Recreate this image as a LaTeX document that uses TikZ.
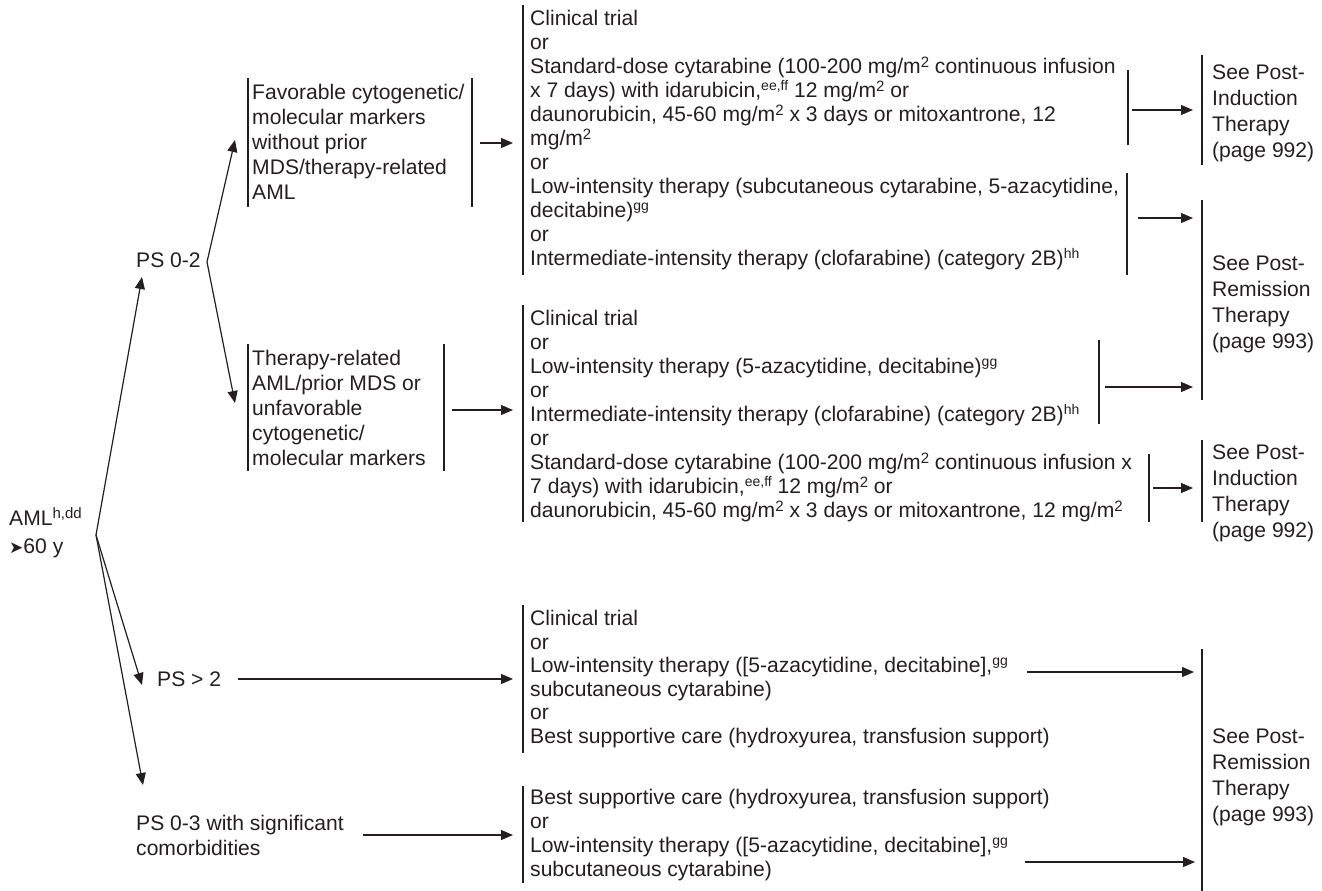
\documentclass[tikz,border=0pt]{standalone}
\usepackage{fontspec}
\setmainfont{Liberation Sans}
\newfontfamily\symfont{DejaVu Sans}
\usetikzlibrary{arrows.meta}
\definecolor{ink}{HTML}{231F20}
% strut that fixes the top of every text block
\newcommand\firstl{\rule{0pt}{20pt}}
% raised footnote marks and exponents
\newcommand\spp[1]{\raisebox{7pt}{\fontsize{14}{14}\selectfont #1}}
\newcommand\sq{\raisebox{6.5pt}{\fontsize{15}{15}\selectfont 2}}
\newcommand\bodyfont[1]{\fontsize{21.1}{#1}\selectfont}

\begin{document}
\begin{tikzpicture}[x=1pt,y=-1pt,
  txt/.style={inner sep=0pt, anchor=north west, align=left, text=ink, font=\bodyfont{24}},
  bar/.style={draw=ink, line width=1.3pt},
  arr/.style={draw=ink, line width=1.2pt, -{Triangle[length=12pt,width=10pt]}}]
\useasboundingbox (0,0) rectangle (1322,891);

% ---------- left column ----------
\node[txt, font=\bodyfont{28}] (aml) at (9,505.5) {\firstl AML\raisebox{7pt}{\fontsize{15}{15}\selectfont h,dd}\\{\symfont\fontsize{17}{17}\selectfont ➤}60 y};
\node[txt] (ps02) at (136,247.5) {\firstl PS 0-2};
\node[txt] (psgt2) at (157,666.5) {\firstl PS > 2};
\node[txt, font=\bodyfont{25}] (ps03) at (136,810.5) {\firstl PS 0-3 with significant\\comorbidities};

% ---------- cytogenetic groups ----------
\node[txt, font=\bodyfont{25}] (fav) at (252,79.5) {\firstl Favorable cytogenetic/\\molecular markers\\without prior\\MDS/therapy-related\\AML};
\node[txt, font=\bodyfont{25}] (unf) at (252,345.5) {\firstl Therapy-related\\AML/prior MDS or\\unfavorable\\cytogenetic/\\molecular markers};
\draw[bar] (248,78) -- (248,207);
\draw[bar] (472,78) -- (472,207);
\draw[bar] (248,344) -- (248,471);
\draw[bar] (444,344) -- (444,471);

% ---------- treatment lists ----------
\node[txt] (t1) at (530,5.5) {\firstl Clinical trial\\
or\\
Standard-dose cytarabine (100-200 mg/m\sq{} continuous infusion\\
x 7 days) with idarubicin,\spp{ee,ff} 12 mg/m\sq{} or\\
daunorubicin, 45-60 mg/m\sq{} x 3 days or mitoxantrone, 12\\
mg/m\sq\\
or\\
Low-intensity therapy (subcutaneous cytarabine, 5-azacytidine,\\
decitabine)\spp{gg}\\
or\\
Intermediate-intensity therapy (clofarabine) (category 2B)\spp{hh}};

\node[txt] (t2) at (530,305.5) {\firstl Clinical trial\\
or\\
Low-intensity therapy (5-azacytidine, decitabine)\spp{gg}\\
or\\
Intermediate-intensity therapy (clofarabine) (category 2B)\spp{hh}\\
or\\
Standard-dose cytarabine (100-200 mg/m\sq{} continuous infusion x\\
7 days) with idarubicin,\spp{ee,ff} 12 mg/m\sq{} or\\
daunorubicin, 45-60 mg/m\sq{} x 3 days or mitoxantrone, 12 mg/m\sq};

\node[txt, font=\bodyfont{23.5}] (t3) at (530,605.5) {\firstl Clinical trial\\
or\\
Low-intensity therapy ([5-azacytidine, decitabine],\spp{gg}\\
subcutaneous cytarabine)\\
or\\
Best supportive care (hydroxyurea, transfusion support)};

\node[txt] (t4) at (530,784.5) {\firstl Best supportive care (hydroxyurea, transfusion support)\\
or\\
Low-intensity therapy ([5-azacytidine, decitabine],\spp{gg}\\
subcutaneous cytarabine)};

\draw[bar] (523,5) -- (523,275);
\draw[bar] (523,305) -- (523,522);
\draw[bar] (523,605) -- (523,753);
\draw[bar] (523,786) -- (523,883);
% closing bars of the option groups
\draw[bar] (1128,70) -- (1128,145);
\draw[bar] (1127,173) -- (1127,275);
\draw[bar] (1099,340) -- (1099,424);
\draw[bar] (1149,454) -- (1149,522);

% ---------- follow-up references ----------
\node[txt, font=\bodyfont{26}] (ind1) at (1212,59.5) {\firstl See Post-\\Induction\\Therapy\\(page 992)};
\node[txt, font=\bodyfont{26}] (rem1) at (1212,250.5) {\firstl See Post-\\Remission\\Therapy\\(page 993)};
\node[txt, font=\bodyfont{26}] (ind2) at (1212,439.5) {\firstl See Post-\\Induction\\Therapy\\(page 992)};
\node[txt, font=\bodyfont{26}] (rem2) at (1212,723.5) {\firstl See Post-\\Remission\\Therapy\\(page 993)};
\draw[bar] (1202,55) -- (1202,165);
\draw[bar] (1202,200) -- (1202,400);
\draw[bar] (1202,440) -- (1202,522);
\draw[bar] (1202,649) -- (1202,891);

% ---------- connector end points ----------
\coordinate (amlv) at (96,535);
\coordinate (ps02tip) at (142,277);
\coordinate (psgt2tip) at (142,685);
\coordinate (ps03tip) at (143,785);
\coordinate (ps02v) at (207,262);
\coordinate (favtip) at (235,140);
\coordinate (unftip) at (235,403);
\coordinate (favout) at (480,143);
\coordinate (t1inA) at (513,143);
\coordinate (unfout) at (452,410);
\coordinate (t2in) at (513,410);
\coordinate (psgt2out) at (238,679);
\coordinate (t3in) at (513,679);
\coordinate (ps03out) at (363,835);
\coordinate (t4in) at (513,835);
\coordinate (t1outA) at (1132,110);
\coordinate (ind1in) at (1193,110);
\coordinate (t1outB) at (1138,218);
\coordinate (rem1inA) at (1193,218);
\coordinate (t2outA) at (1105,387);
\coordinate (rem1inB) at (1193,387);
\coordinate (t2outB) at (1153,488);
\coordinate (ind2in) at (1193,488);
\coordinate (t3out) at (1027,672);
\coordinate (rem2inA) at (1194,672);
\coordinate (t4out) at (1025,862);
\coordinate (rem2inB) at (1195,862);

% ---------- connectors ----------
\draw[arr] (amlv) -- (ps02tip);
\draw[arr] (amlv) -- (psgt2tip);
\draw[arr] (amlv) -- (ps03tip);
\draw[arr] (ps02v) -- (favtip);
\draw[arr] (ps02v) -- (unftip);
\draw[arr] (favout) -- (t1inA);
\draw[arr] (unfout) -- (t2in);
\draw[arr] (psgt2out) -- (t3in);
\draw[arr] (ps03out) -- (t4in);
\draw[arr] (t1outA) -- (ind1in);
\draw[arr] (t1outB) -- (rem1inA);
\draw[arr] (t2outA) -- (rem1inB);
\draw[arr] (t2outB) -- (ind2in);
\draw[arr] (t3out) -- (rem2inA);
\draw[arr] (t4out) -- (rem2inB);
\end{tikzpicture}
\end{document}
